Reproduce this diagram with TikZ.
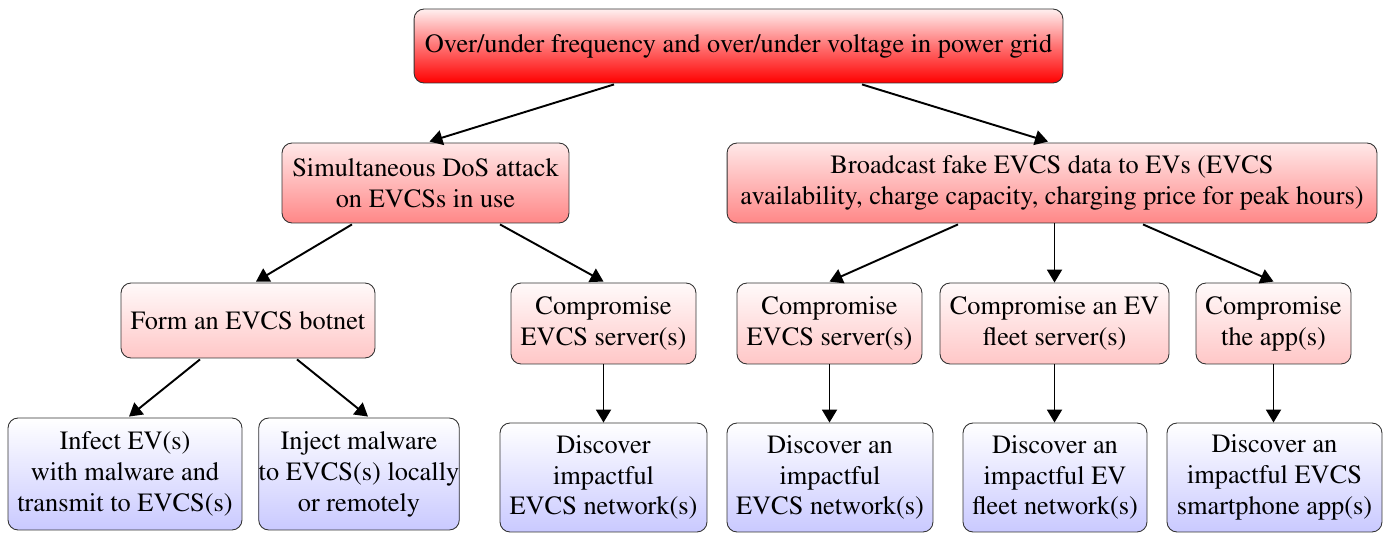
\documentclass[tikz,border=0pt]{standalone}
\usepackage[T1]{fontenc}
\usepackage{mathptmx}
\usepackage{tikz}
\usetikzlibrary{shapes}
\usetikzlibrary{arrows.meta}
\usetikzlibrary{calc}

\tikzset{
    box/.style={draw=black!80,line width=0.5pt,rounded corners=0.2cm,align=center,inner sep=0pt,
        font=\fontsize{15}{17.6}\selectfont},
    rootbox/.style={box,top color=red!6,bottom color=red,middle color=red!55},
    goalbox/.style={box,top color=red!9,bottom color=red!47},
    stepbox/.style={box,top color=red!2,bottom color=red!22},
    leafbox/.style={box,top color=white,bottom color=blue!21},
    edge/.style={-{Triangle[length=0.26cm,width=0.3cm]},line width=1.1pt}
}

\begin{document}
\begin{tikzpicture}[x=0.02cm,y=-0.02cm]
        \useasboundingbox (0,0) rectangle (1389,533);

        \node[rootbox,minimum width=12.98cm,minimum height=1.48cm] (grid) at (738.5,46) {Over/under frequency and over/under voltage in power grid};

        \node[goalbox,minimum width=5.74cm,minimum height=1.6cm] (dos) at (425.5,183) {Simultaneous DoS attack\\on EVCSs in use};
        \node[goalbox,minimum width=13cm,minimum height=1.6cm] (fake) at (1052,183) {Broadcast fake EVCS data to EVs (EVCS\\availability, charge capacity, charging price for peak hours)};

        \node[stepbox,minimum width=5.08cm,minimum height=1.5cm] (botnet) at (248,320.5) {Form an EVCS botnet};
        \node[stepbox,minimum width=3.7cm,minimum height=1.62cm] (srvA) at (603.5,323.5) {Compromise\\EVCS server(s)};
        \node[stepbox,minimum width=3.7cm,minimum height=1.62cm] (srvB) at (829.5,323.5) {Compromise\\EVCS server(s)};
        \node[stepbox,minimum width=4.58cm,minimum height=1.62cm] (fleet) at (1054.5,323.5) {Compromise an EV\\fleet server(s)};
        \node[stepbox,minimum width=3.1cm,minimum height=1.62cm] (app) at (1273.5,323.5) {Compromise\\the app(s)};

        \node[leafbox,minimum width=4.68cm,minimum height=2.24cm] (infect) at (125,474) {Infect EV(s)\\with malware and\\transmit to EVCS(s)};
        \node[leafbox,minimum width=3.92cm,minimum height=2.24cm] (inject) at (359,474) {Inject malware\\to EVCS(s) locally\\or remotely};
        \node[leafbox,minimum width=4.14cm,minimum height=2.18cm] (netA) at (603.5,477.5) {Discover\\impactful\\EVCS network(s)};
        \node[leafbox,minimum width=4.12cm,minimum height=2.18cm] (netB) at (830,477.5) {Discover an\\impactful\\EVCS network(s)};
        \node[leafbox,minimum width=3.68cm,minimum height=2.18cm] (netC) at (1055,477.5) {Discover an\\impactful EV\\fleet network(s)};
        \node[leafbox,minimum width=4.3cm,minimum height=2.18cm] (netD) at (1274.5,477.5) {Discover an\\impactful EVCS\\smartphone app(s)};

        \draw[edge] ($(grid.south)+(-124.5,1)$) -- ($(dos.north)+(4,-1)$);
        \draw[edge] ($(grid.south)+(123.5,1)$) -- ($(fake.north)+(-4,-1)$);

        \draw[edge] ($(dos.south)+(-73.5,1)$) -- ($(botnet.north)+(8,-1)$);
        \draw[edge] ($(dos.south)+(74.5,1)$) -- ($(srvA.north)+(0,-1)$);
        \draw[edge] ($(fake.south)+(-94,1)$) -- ($(srvB.north)+(0,-1)$);
        \draw[edge] (fake.south -| fleet.north) -- (fleet.north);
        \draw[edge] ($(fake.south)+(91,1)$) -- ($(app.north)+(0,-1)$);

        \draw[edge] ($(botnet.south)+(-48,1)$) -- ($(infect.north)+(4,-1)$);
        \draw[edge] ($(botnet.south)+(49,1)$) -- ($(inject.north)+(9,-1)$);
        \draw[edge] (srvA.south) -- (srvA.south |- netA.north);
        \draw[edge] (srvB.south) -- (srvB.south |- netB.north);
        \draw[edge] (fleet.south) -- (fleet.south |- netC.north);
        \draw[edge] (app.south) -- (app.south |- netD.north);
\end{tikzpicture}
\end{document}
